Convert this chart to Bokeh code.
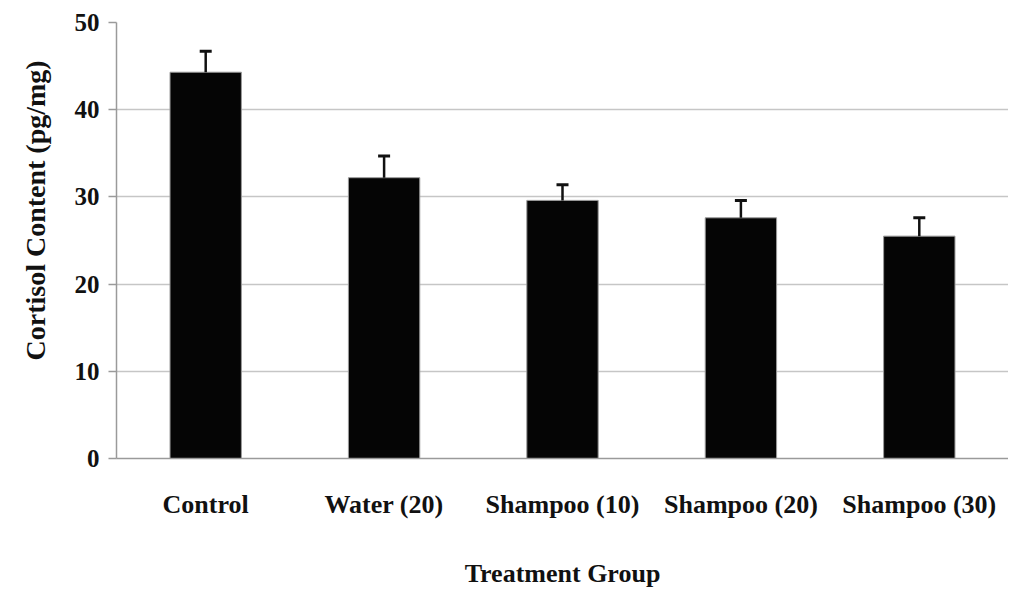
import math
from bokeh.plotting import figure
from bokeh.models import ColumnDataSource, Whisker, TeeHead, Title, FixedTicker, Range1d
from bokeh.embed import file_html
from bokeh.resources import INLINE

groups = ["Control", "Water (20)", "Shampoo (10)", "Shampoo (20)", "Shampoo (30)"]
means = [44.3, 32.2, 29.6, 27.6, 25.5]
errors = [2.4, 2.5, 1.8, 2.0, 2.1]
y_ticks = [0, 10, 20, 30, 40, 50]

upper = [m + e for m, e in zip(means, errors)]
src = ColumnDataSource(dict(g=groups, m=means, up=upper))

FONT = "Liberation Serif"

p = figure(x_range=groups, width=1008, height=590, output_backend="svg",
           toolbar_location=None, min_border_left=115, min_border_right=0,
           min_border_top=22, min_border_bottom=128)
p.y_range = Range1d(0, 50)
p.x_range.range_padding = 0
p.outline_line_color = None

p.vbar(x="g", top="m", width=0.4, source=src, fill_color="#050505",
       line_color="#9a9a9a", line_width=1)

wh = Whisker(base="g", upper="up", lower="m", source=src, line_color="#111111",
             line_width=2.5, upper_head=TeeHead(size=12, line_width=3, line_color="#111111"),
             lower_head=None, level="overlay")
p.add_layout(wh)

p.yaxis.ticker = FixedTicker(ticks=y_ticks)
p.ygrid.grid_line_color = "#c6c6c6"
p.ygrid.grid_line_width = 1.5
p.xgrid.grid_line_color = None

for ax in (p.xaxis, p.yaxis):
    ax.axis_line_color = "#9a9a9a"
    ax.axis_line_width = 1.5
    ax.major_label_text_font = FONT
    ax.major_label_text_font_style = "bold"
    ax.major_label_text_color = "#111111"
    ax.minor_tick_line_color = None

p.yaxis.major_label_text_font_size = "25px"
p.xaxis.major_label_text_font_size = "26px"

p.yaxis.major_tick_line_color = "#9a9a9a"
p.yaxis.major_tick_line_width = 1.5
p.yaxis.major_tick_out = 8
p.yaxis.major_tick_in = 0
p.yaxis.major_label_standoff = 9

p.xaxis.major_tick_line_color = None
p.xaxis.major_label_standoff = 25
p.xaxis.axis_label = "Treatment Group"
p.xaxis.axis_label_text_font = FONT
p.xaxis.axis_label_text_font_style = "bold"
p.xaxis.axis_label_text_font_size = "26px"
p.xaxis.axis_label_text_color = "#111111"
p.xaxis.axis_label_standoff = 37

ytitle = Title(text="Cortisol Content (pg/mg)", align="left", offset=98,
               vertical_align="top", standoff=38, text_font=FONT,
               text_font_style="bold", text_font_size="28px", text_color="#111111")
p.add_layout(ytitle, "left")

open("out.html", "w").write(file_html(p, INLINE))
